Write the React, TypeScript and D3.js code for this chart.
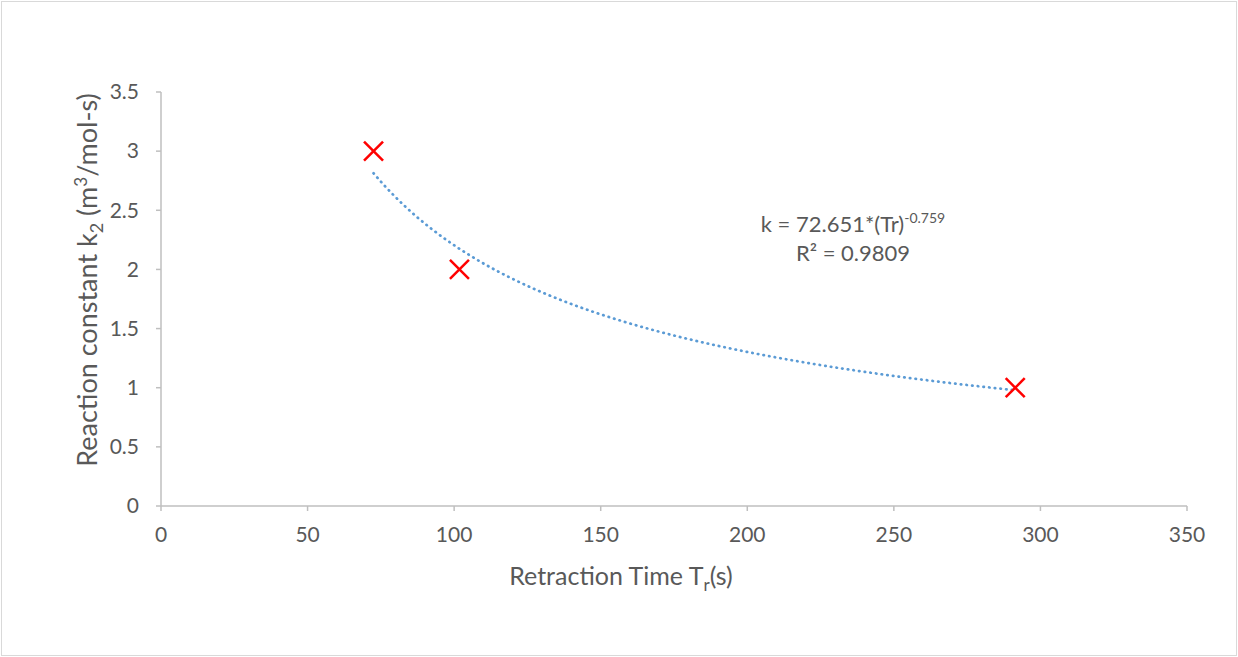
import React from "react";
import * as d3 from "d3";

const xTicks = [0, 50, 100, 150, 200, 250, 300, 350];
const yTicks = [0, 0.5, 1, 1.5, 2, 2.5, 3, 3.5];
const retractionTime = [72.5, 101.8, 291.4];
const reactionK = [3, 2, 1];
const fitA = 72.651;
const fitB = -0.759;
const fitR2 = 0.9809;

const W = 1238;
const H = 657;
const FONT = "Lato, 'Open Sans', sans-serif";
const TXT = "#595959";
const AXIS = "#bfbfbf";

export default function App() {
  const x = d3.scaleLinear().domain([0, 350]).range([161, 1187]);
  const y = d3.scaleLinear().domain([0, 3.5]).range([506, 92]);

  const xmin = d3.min(retractionTime)!;
  const xmax = d3.max(retractionTime)!;
  const samples = d3.range(0, 101).map((i) => xmin + ((xmax - xmin) * i) / 100);
  const line = d3
    .line<number>()
    .x((d) => x(d))
    .y((d) => y(fitA * Math.pow(d, fitB)))
    .curve(d3.curveLinear);

  const m = 9.5;
  return (
    <svg
      width={W}
      height={H}
      style={{ position: "absolute", left: 0, top: 0, background: "#fff" }}
      fontFamily={FONT}
    >
      <rect x={1.5} y={1.5} width={W - 3} height={H - 3} fill="#fff" stroke="#d9d9d9" strokeWidth={1} />
      {/* axes */}
      <line x1={161} x2={161} y1={y(3.5)} y2={y(0)} stroke={AXIS} strokeWidth={1.5} />
      <line x1={161} x2={1187} y1={506} y2={506} stroke={AXIS} strokeWidth={1.5} />
      {yTicks.map((t) => (
        <g key={"y" + t}>
          <line x1={156} x2={161} y1={y(t)} y2={y(t)} stroke={AXIS} strokeWidth={1.5} />
          <text x={139} y={y(t)} dy="0.35em" textAnchor="end" fontSize={21} fill={TXT}>
            {t}
          </text>
        </g>
      ))}
      {xTicks.map((t) => (
        <g key={"x" + t}>
          <line x1={x(t)} x2={x(t)} y1={506} y2={511} stroke={AXIS} strokeWidth={1.5} />
          <text x={x(t)} y={535} dy="0.35em" textAnchor="middle" fontSize={21} fill={TXT}>
            {t}
          </text>
        </g>
      ))}
      {/* axis titles */}
      <text x={621} y={585} textAnchor="middle" fontSize={25} fill={TXT}>
        Retraction Time T<tspan fontSize={17} dy={6}>r</tspan>
        <tspan dy={-6}>(s)</tspan>
      </text>
      <text
        transform={`translate(97,280) rotate(-90)`}
        textAnchor="middle"
        fontSize={27}
        fill={TXT}
      >
        Reaction constant k<tspan fontSize={18} dy={6}>2</tspan>
        <tspan dy={-6}> (m</tspan>
        <tspan fontSize={17} dy={-10}>3</tspan>
        <tspan dy={10}>/mol-s)</tspan>
      </text>
      {/* trendline */}
      <path
        d={line(samples) || ""}
        fill="none"
        stroke="#5b9bd5"
        strokeWidth={2.7}
        strokeLinecap="round"
        strokeDasharray="0.5 5.2"
      />
      {/* markers */}
      {retractionTime.map((t, i) => {
        const cx = x(t);
        const cy = y(reactionK[i]);
        return (
          <g key={"p" + i} stroke="#ff0000" strokeWidth={2.5}>
            <line x1={cx - m} y1={cy - m} x2={cx + m} y2={cy + m} />
            <line x1={cx - m} y1={cy + m} x2={cx + m} y2={cy - m} />
          </g>
        );
      })}
      {/* equation */}
      <text x={853} y={232} textAnchor="middle" fontSize={22} fill={TXT}>
        k = 72.651*(Tr)<tspan fontSize={14} dy={-9}>{String(fitB)}</tspan>
      </text>
      <text x={853} y={261} textAnchor="middle" fontSize={22} fill={TXT}>
        R² = {fitR2}
      </text>
    </svg>
  );
}
